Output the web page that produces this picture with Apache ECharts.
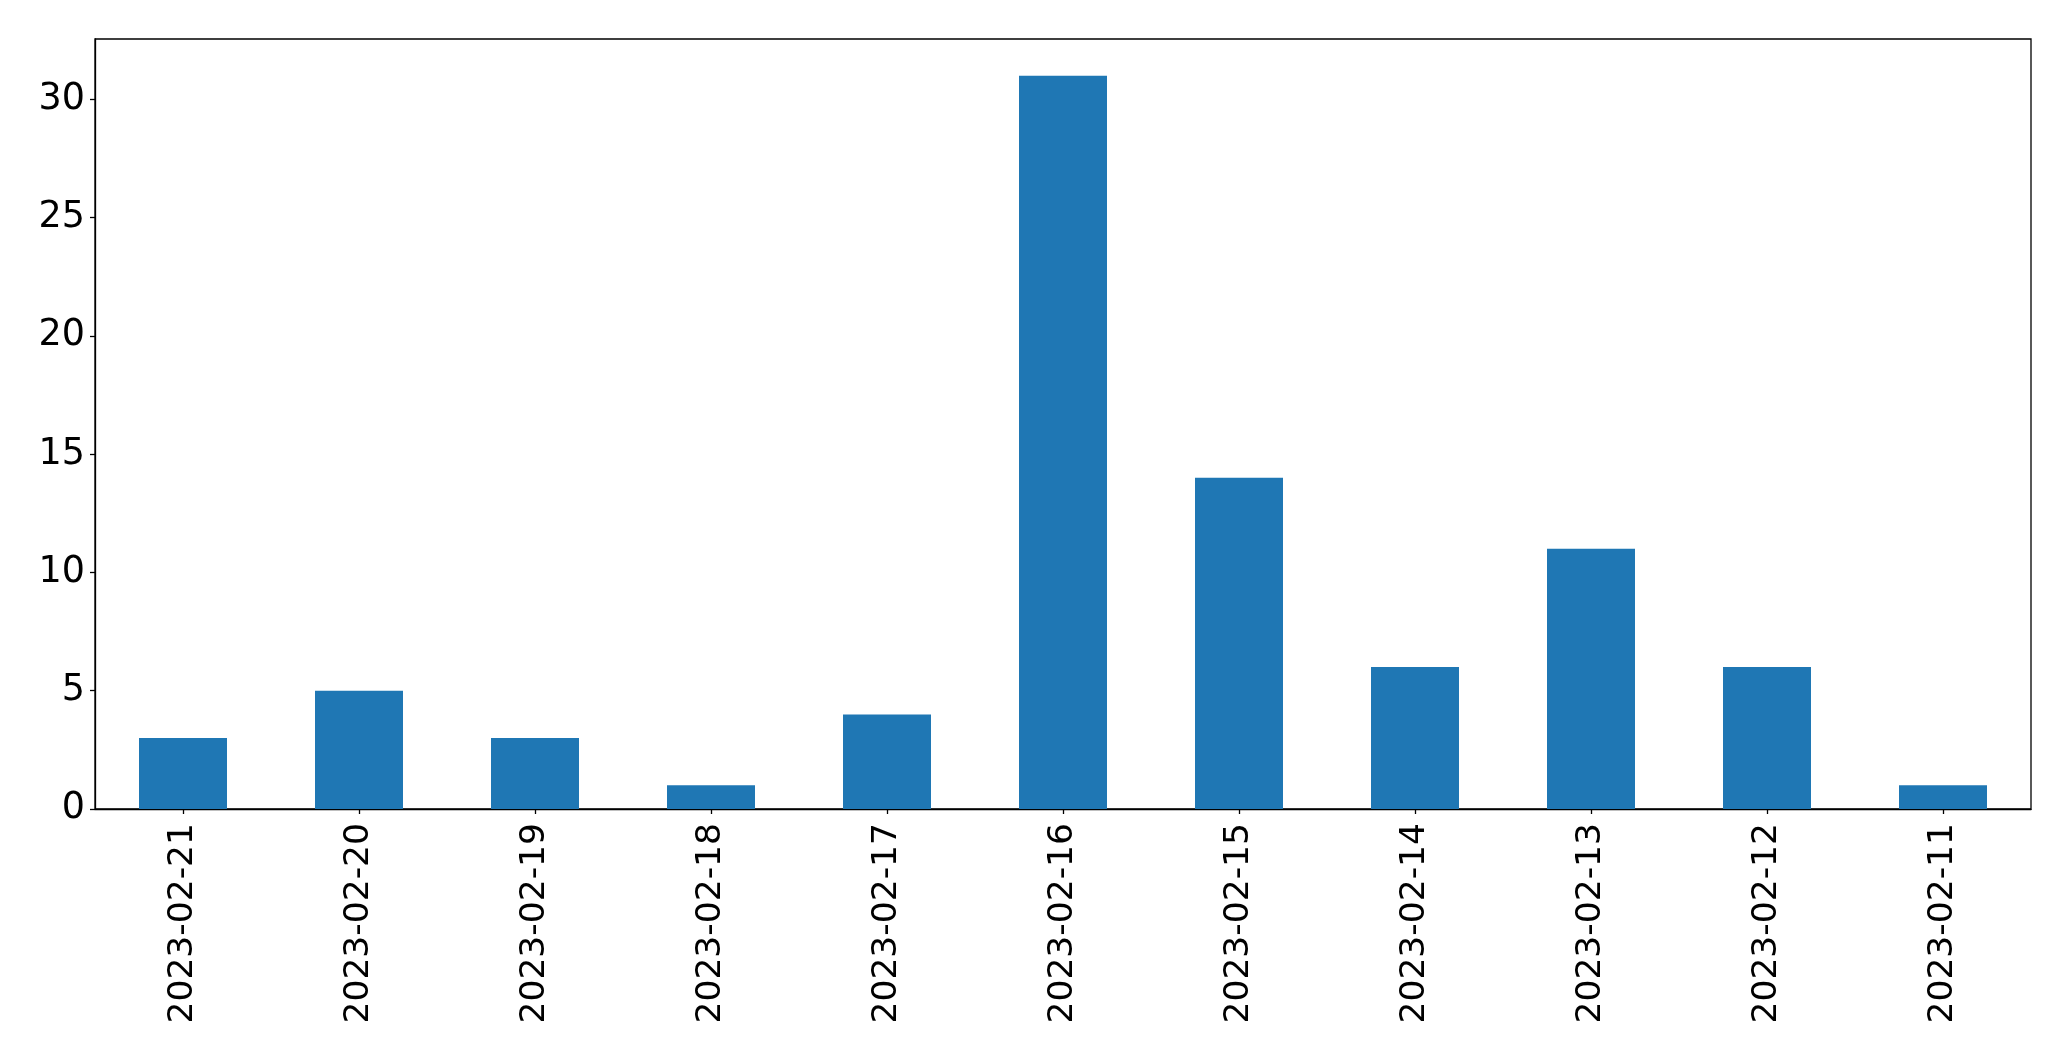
<!DOCTYPE html>
<html>
<head>
<meta charset="utf-8">
<script src="https://cdn.jsdelivr.net/npm/echarts@6/dist/echarts.min.js"></script>
<style>
html,body{margin:0;padding:0;background:#fff;}
#chart{width:2071px;height:1061px;}
</style>
</head>
<body>
<div id="chart"></div>
<script>
const categories = ['2023-02-21','2023-02-20','2023-02-19','2023-02-18','2023-02-17','2023-02-16','2023-02-15','2023-02-14','2023-02-13','2023-02-12','2023-02-11'];
const counts = [3,5,3,1,4,31,14,6,11,6,1];
const yTicks = [0,5,10,15,20,25,30];
const yMin = 0;
const yMax = 32.55;
const yInterval = 5;

const chart = echarts.init(document.getElementById('chart'), null, {renderer:'canvas'});
const font = 'DejaVu Sans';
chart.setOption({
  animation: false,
  grid: {left:95, top:39, right:40, height:770, show:true, borderColor:'#000', borderWidth:1.3, backgroundColor:'transparent'},
  xAxis: {
    type:'category',
    data: categories,
    axisLine:{show:true, lineStyle:{color:'#000', width:1.3}},
    axisTick:{show:true, alignWithLabel:true, length:5, lineStyle:{color:'#000', width:1.3}},
    axisLabel:{rotate:90, margin:14, color:'#000', fontFamily:font, fontSize:34.5, interval:0}
  },
  yAxis: {
    type:'value',
    min:yMin, max:yMax, interval:yInterval,
    splitLine:{show:false},
    axisLine:{show:true, lineStyle:{color:'#000', width:1.3}},
    axisTick:{show:true, length:5, customValues:yTicks, lineStyle:{color:'#000', width:1.3}},
    axisLabel:{margin:10, color:'#000', fontFamily:font, fontSize:36.5, customValues:yTicks,
      padding:[6,0,0,0],
      formatter: v => (v % yInterval === 0 ? String(v) : '')}
  },
  series: [{
    type:'bar',
    data: counts,
    barWidth:'50%',
    itemStyle:{color:'#1f77b4'}
  }]
});
</script>
</body>
</html>
